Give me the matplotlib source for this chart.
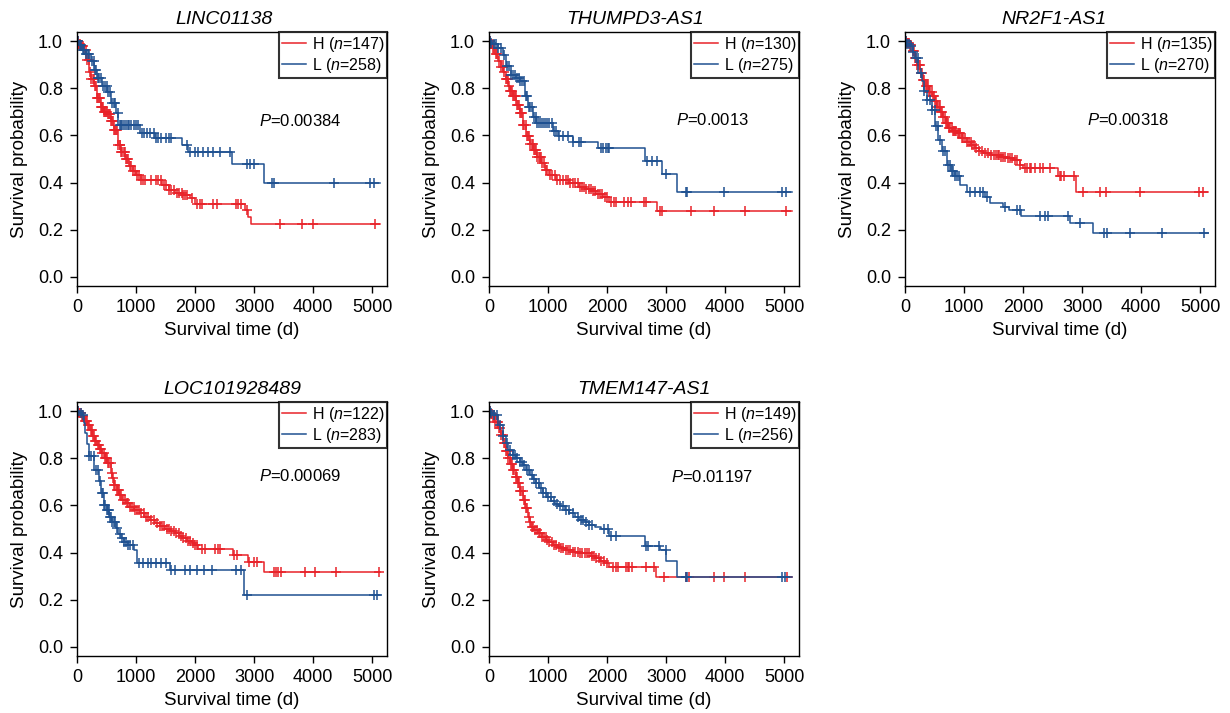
import numpy as np
import matplotlib
matplotlib.use("Agg")
from matplotlib import pyplot as plt

plt.rcParams['font.family'] = ['Liberation Sans', 'DejaVu Sans']
plt.rcParams['mathtext.fontset'] = 'custom'
plt.rcParams['mathtext.rm'] = 'Liberation Sans'
plt.rcParams['mathtext.it'] = 'Liberation Sans:italic'

RED = '#E8232A'
BLUE = '#1F5191'

genes = ['LINC01138', 'THUMPD3-AS1', 'NR2F1-AS1', 'LOC101928489', 'TMEM147-AS1']
n_high = [147, 130, 135, 122, 149]
n_low = [258, 275, 270, 283, 256]
p_values = ['0.00384', '0.0013', '0.00318', '0.00069', '0.01197']
p_y = [0.66, 0.667, 0.667, 0.726, 0.723]

# ---- LINC01138 ----
h1_t = [20, 60, 114, 160, 200, 240, 286, 340, 400, 460, 514, 570, 629, 690, 743, 810, 886, 940, 1000,
        1088, 1435, 1550, 1661, 1800, 1915, 2000, 2848, 2904, 2950]
h1_s = [0.99, 0.98, 0.965, 0.92, 0.87, 0.84, 0.81, 0.76, 0.72, 0.70, 0.69, 0.66, 0.625, 0.56, 0.53, 0.50, 0.47,
        0.45, 0.43, 0.411, 0.39, 0.37, 0.355, 0.345, 0.334, 0.31, 0.284, 0.255, 0.222]
h1_c = [10, 25, 40, 55, 75, 90, 105, 125, 145, 170, 195, 215, 240, 265, 285, 305, 320, 340, 355, 370, 385, 400,
        415, 430, 445, 460, 475, 490, 505, 520, 540, 555, 575, 590, 610, 630, 650, 665, 685, 700, 720, 735, 750,
        770, 790, 805, 825, 845, 865, 890, 915, 945, 975, 1010, 1050, 1090, 1120, 1150, 1250, 1330, 1380, 1420,
        1470, 1510, 1560, 1600, 1640, 1690, 1730, 1770, 1800, 1830, 1870, 1950, 2040, 2080, 2110, 2310, 2370,
        2690, 2730, 2770, 2880, 3430, 3810, 3990, 5050]
l1_t = [30, 80, 150, 229, 290, 343, 420, 514, 580, 657, 700, 1068, 1322, 1774, 1887, 2622, 3175]
l1_s = [0.985, 0.965, 0.945, 0.915, 0.88, 0.844, 0.81, 0.787, 0.74, 0.695, 0.645, 0.61, 0.589, 0.56, 0.528,
        0.48, 0.397]
l1_c = [5, 20, 45, 70, 95, 120, 150, 180, 210, 250, 280, 300, 330, 360, 380, 410, 440, 470, 500, 530, 555, 590,
        620, 650, 690, 720, 740, 770, 800, 830, 860, 880, 920, 960, 1000, 1030, 1100, 1140, 1180, 1230, 1300,
        1340, 1380, 1420, 1500, 1560, 1600, 1860, 1915, 2000, 2050, 2136, 2220, 2305, 2424, 2593, 2876, 2932,
        3000, 3300, 3344, 4345, 4966, 5022]

# ---- THUMPD3-AS1 ----
h2_t = [20, 67, 110, 152, 200, 236, 280, 321, 360, 405, 460, 517, 570, 630, 690, 742, 810, 883, 950, 1024,
        1136, 1361, 1530, 1620, 1727, 1820, 1924, 2036, 2840]
h2_s = [0.99, 0.97, 0.945, 0.915, 0.89, 0.87, 0.84, 0.81, 0.79, 0.766, 0.73, 0.695, 0.645, 0.596, 0.565, 0.54,
        0.51, 0.483, 0.455, 0.433, 0.41, 0.397, 0.383, 0.372, 0.362, 0.35, 0.34, 0.319, 0.277]
h2_c = [10, 30, 50, 70, 90, 115, 140, 170, 200, 230, 255, 280, 300, 320, 340, 360, 380, 395, 410, 425, 440, 455,
        470, 490, 505, 520, 540, 560, 580, 600, 620, 640, 660, 680, 700, 720, 740, 760, 780, 800, 820, 840, 860,
        880, 900, 930, 960, 990, 1030, 1070, 1110, 1150, 1200, 1250, 1300, 1340, 1380, 1420, 1460, 1500, 1540,
        1580, 1610, 1650, 1690, 1720, 1760, 1800, 1840, 1880, 1920, 1960, 2000, 2064, 2121, 2149, 2290, 2346,
        2402, 2627, 2655, 2891, 2936, 3414, 3808, 4342, 5034]
l2_t = [40, 67, 152, 236, 292, 377, 450, 517, 602, 658, 742, 798, 1080, 1164, 1417, 1839, 2634, 2930, 3180]
l2_s = [0.995, 0.99, 0.97, 0.943, 0.894, 0.858, 0.845, 0.83, 0.766, 0.723, 0.68, 0.655, 0.617, 0.598, 0.574,
        0.547, 0.49, 0.436, 0.36]
l2_c = [10, 40, 80, 120, 160, 200, 250, 300, 340, 380, 410, 440, 470, 500, 530, 560, 590, 620, 650, 680, 700,
        730, 760, 790, 820, 850, 880, 910, 940, 980, 1020, 1060, 1100, 1136, 1192, 1249, 1333, 1417, 1530, 1558,
        1895, 1924, 1980, 2008, 2036, 2683, 2756, 2852, 2992, 3330, 3358, 3977, 4961, 5034]

# ---- NR2F1-AS1 ----
h3_t = [30, 85, 130, 170, 210, 254, 300, 339, 400, 452, 500, 537, 600, 650, 690, 734, 800, 876, 960, 1045,
        1120, 1186, 1250, 1322, 1450, 1610, 1720, 1840, 1944, 2006, 2593, 2904]
h3_s = [0.995, 0.986, 0.96, 0.93, 0.9, 0.865, 0.835, 0.81, 0.785, 0.766, 0.745, 0.723, 0.70, 0.68, 0.655,
        0.631, 0.62, 0.61, 0.59, 0.574, 0.56, 0.546, 0.535, 0.525, 0.515, 0.508, 0.503, 0.496, 0.475, 0.461,
        0.426, 0.359]
h3_c = [10, 30, 50, 70, 90, 110, 130, 150, 170, 190, 210, 230, 250, 270, 290, 310, 330, 350, 370, 390, 410, 430,
        450, 470, 490, 510, 530, 550, 570, 590, 610, 630, 650, 670, 690, 710, 730, 750, 770, 790, 810, 830, 850,
        870, 890, 910, 930, 960, 990, 1020, 1050, 1080, 1110, 1140, 1170, 1200, 1250, 1300, 1350, 1400, 1450,
        1500, 1540, 1570, 1600, 1630, 1660, 1700, 1740, 1780, 1820, 1860, 1900, 1950, 2028, 2068, 2113, 2141,
        2198, 2283, 2339, 2452, 2621, 2650, 2690, 2870, 3017, 3300, 3402, 3988, 4978, 5051]
l3_t = [40, 85, 130, 170, 226, 282, 330, 367, 452, 508, 565, 621, 706, 780, 847, 932, 1045, 1356, 1441, 1661,
        1760, 1966, 2800, 3192]
l3_s = [0.99, 0.98, 0.955, 0.93, 0.865, 0.83, 0.79, 0.75, 0.71, 0.64, 0.58, 0.532, 0.475, 0.45, 0.426, 0.39,
        0.36, 0.34, 0.312, 0.298, 0.284, 0.258, 0.227, 0.187]
l3_c = [10, 40, 70, 100, 140, 180, 220, 270, 330, 370, 420, 460, 500, 530, 560, 600, 640, 680, 720, 760, 790,
        820, 850, 880, 910, 1102, 1186, 1271, 1328, 1384, 1695, 1893, 1949, 2288, 2373, 2418, 2768, 2966, 3362,
        3418, 3814, 4350, 5056]

# ---- LOC101928489 ----
h4_t = [30, 86, 130, 171, 215, 257, 300, 343, 390, 429, 470, 514, 571, 600, 629, 670, 714, 770, 829, 900, 971,
        1060, 1143, 1230, 1314, 1400, 1486, 1570, 1657, 1730, 1800, 1870, 1943, 2000, 2057, 2650, 2904, 3175]
h4_s = [0.995, 0.979, 0.96, 0.943, 0.92, 0.894, 0.875, 0.858, 0.84, 0.823, 0.80, 0.78, 0.738, 0.715, 0.688,
        0.665, 0.645, 0.625, 0.61, 0.595, 0.582, 0.567, 0.553, 0.54, 0.525, 0.512, 0.50, 0.49, 0.482, 0.47,
        0.461, 0.45, 0.44, 0.43, 0.415, 0.39, 0.358, 0.317]
h4_c = [10, 30, 50, 70, 90, 110, 130, 150, 170, 190, 210, 230, 250, 270, 290, 310, 330, 350, 370, 390, 410, 430,
        450, 470, 490, 510, 530, 550, 570, 590, 610, 630, 650, 670, 690, 710, 730, 750, 780, 810, 840, 870, 900,
        930, 960, 990, 1020, 1050, 1090, 1130, 1170, 1210, 1250, 1300, 1350, 1400, 1440, 1480, 1520, 1560, 1600,
        1640, 1680, 1720, 1760, 1800, 1840, 1880, 1920, 1960, 2000, 2040, 2114, 2171, 2343, 2389, 2429, 2657,
        2714, 2914, 3000, 3040, 3343, 3371, 3400, 3457, 3857, 4029, 4389, 5114]
l4_t = [40, 86, 115, 143, 170, 200, 286, 371, 400, 457, 500, 543, 600, 657, 700, 743, 800, 857, 971, 1017,
        1571, 2830]
l4_s = [0.995, 0.986, 0.95, 0.908, 0.86, 0.81, 0.752, 0.702, 0.652, 0.603, 0.58, 0.553, 0.53, 0.504, 0.48,
        0.461, 0.445, 0.433, 0.411, 0.355, 0.327, 0.22]
l4_c = [20, 60, 100, 200, 240, 280, 330, 360, 390, 420, 440, 460, 480, 500, 520, 540, 560, 580, 600, 620, 650,
        680, 720, 760, 800, 830, 870, 900, 940, 1057, 1114, 1200, 1257, 1343, 1429, 1514, 1600, 1657, 1829,
        1914, 2029, 2143, 2286, 2686, 2771, 2886, 5029, 5086]

# ---- TMEM147-AS1 ----
h5_t = [30, 67, 110, 152, 195, 236, 280, 321, 360, 405, 450, 489, 530, 574, 615, 658, 690, 714, 770, 827, 900,
        967, 1020, 1080, 1150, 1220, 1300, 1417, 1530, 1642, 1720, 1811, 1880, 1952, 2036, 2823]
h5_s = [0.99, 0.979, 0.955, 0.93, 0.9, 0.865, 0.83, 0.80, 0.775, 0.75, 0.72, 0.695, 0.66, 0.624, 0.59, 0.553,
        0.53, 0.51, 0.495, 0.482, 0.468, 0.454, 0.443, 0.433, 0.425, 0.418, 0.41, 0.404, 0.40, 0.397, 0.385,
        0.376, 0.365, 0.355, 0.34, 0.294]
h5_c = [10, 30, 50, 70, 90, 110, 130, 150, 170, 190, 210, 230, 250, 270, 290, 310, 330, 350, 370, 390, 410, 430,
        450, 470, 490, 510, 530, 550, 570, 590, 610, 630, 650, 670, 690, 720, 750, 780, 810, 840, 870, 900, 930,
        960, 990, 1020, 1060, 1100, 1140, 1180, 1220, 1260, 1300, 1340, 1380, 1420, 1460, 1500, 1540, 1580, 1620,
        1660, 1700, 1740, 1780, 1820, 1860, 1900, 1950, 2000, 2092, 2149, 2177, 2317, 2346, 2374, 2419, 2655,
        2796, 2964, 3330, 3386, 3808, 3977, 4342, 5045]
l5_t = [40, 67, 152, 236, 280, 321, 400, 461, 520, 574, 630, 686, 740, 799, 850, 911, 980, 1052, 1120, 1192,
        1280, 1361, 1450, 1530, 1620, 1699, 1800, 1895, 2036, 2636, 2891, 3002, 3181]
l5_s = [0.995, 0.986, 0.943, 0.894, 0.865, 0.837, 0.815, 0.80, 0.787, 0.773, 0.75, 0.73, 0.712, 0.695, 0.675,
        0.652, 0.635, 0.617, 0.605, 0.596, 0.58, 0.567, 0.553, 0.539, 0.528, 0.518, 0.51, 0.50, 0.471, 0.426,
        0.41, 0.365, 0.294]
l5_c = [10, 40, 80, 130, 180, 240, 300, 350, 400, 440, 480, 520, 560, 600, 640, 680, 720, 760, 800, 840, 880,
        920, 960, 1000, 1050, 1100, 1150, 1200, 1250, 1300, 1360, 1420, 1500, 1560, 1600, 1650, 1700, 1750,
        1952, 2008, 2064, 2149, 2655, 2700, 2880, 2992, 3330, 3358, 4961, 5017]

high = [(h1_t, h1_s, h1_c), (h2_t, h2_s, h2_c), (h3_t, h3_s, h3_c), (h4_t, h4_s, h4_c), (h5_t, h5_s, h5_c)]
low = [(l1_t, l1_s, l1_c), (l2_t, l2_s, l2_c), (l3_t, l3_s, l3_c), (l4_t, l4_s, l4_c), (l5_t, l5_s, l5_c)]
t_end = 5130

# axes boxes in pixels (left, top) of a 1230x713 canvas
W, H = 1230, 713
boxes = [(77, 32), (489, 32), (905, 32), (77, 402), (489, 402)]
bw, bh = 310, 254
title_dx = [-8, -9, -6, 0, 0]  # px, titles on the top row sit a bit left of centre


def draw_km(ax, t, s, c, color, label):
    x = np.r_[0, t, t_end]
    y = np.r_[1.0, s, s[-1]]
    line, = ax.step(x, y, where='post', color=color, lw=1.1, label=label)
    c = np.asarray(c, dtype=float)
    idx = np.searchsorted(np.asarray(t), c, side='right')
    cy = np.r_[1.0, s][idx]
    ax.plot(c, cy, ls='none', marker='+', ms=7.5, mew=1.1, color=color)
    return line


fig = plt.figure(figsize=(W / 100, H / 100), dpi=100)

for i in range(5):
    left, top = boxes[i]
    ax = fig.add_axes([left / W, (H - top - bh) / H, bw / W, bh / H])
    lh = draw_km(ax, *high[i], RED, r'H ($n$=%d)' % n_high[i])
    ll = draw_km(ax, *low[i], BLUE, r'L ($n$=%d)' % n_low[i])

    ax.set_xlim(0, 5250)
    ax.set_ylim(-0.04, 1.04)
    ax.set_xticks([0, 1000, 2000, 3000, 4000, 5000])
    ax.set_yticks([0.0, 0.2, 0.4, 0.6, 0.8, 1.0])
    ax.set_yticklabels(['%.1f' % v for v in [0.0, 0.2, 0.4, 0.6, 0.8, 1.0]])
    ax.tick_params(direction='out', length=5, width=1, labelsize=13, color='black')
    ax.tick_params(axis='x', pad=4.5)
    ax.tick_params(axis='y', pad=5)
    for sp in ax.spines.values():
        sp.set_linewidth(1.0)
        sp.set_color('black')

    ax.set_title(genes[i], fontsize=14, style='italic', pad=6, x=0.5 + title_dx[i] / bw)
    ax.set_xlabel('Survival time (d)', fontsize=13.5, labelpad=4)
    ax.set_ylabel('Survival probability', fontsize=13.5, labelpad=7)

    ax.text(3780, p_y[i], r'$P$=' + p_values[i], fontsize=12, ha='center', va='center')

    leg = ax.legend(handles=[lh, ll], loc='upper right', fontsize=11.5, frameon=True, fancybox=False,
                    borderaxespad=0, handlelength=1.5, handletextpad=0.35, labelspacing=0.12,
                    borderpad=0.18)
    leg.get_frame().set_edgecolor('black')
    leg.get_frame().set_linewidth(1.5)

fig.savefig('out.png', dpi=100)
